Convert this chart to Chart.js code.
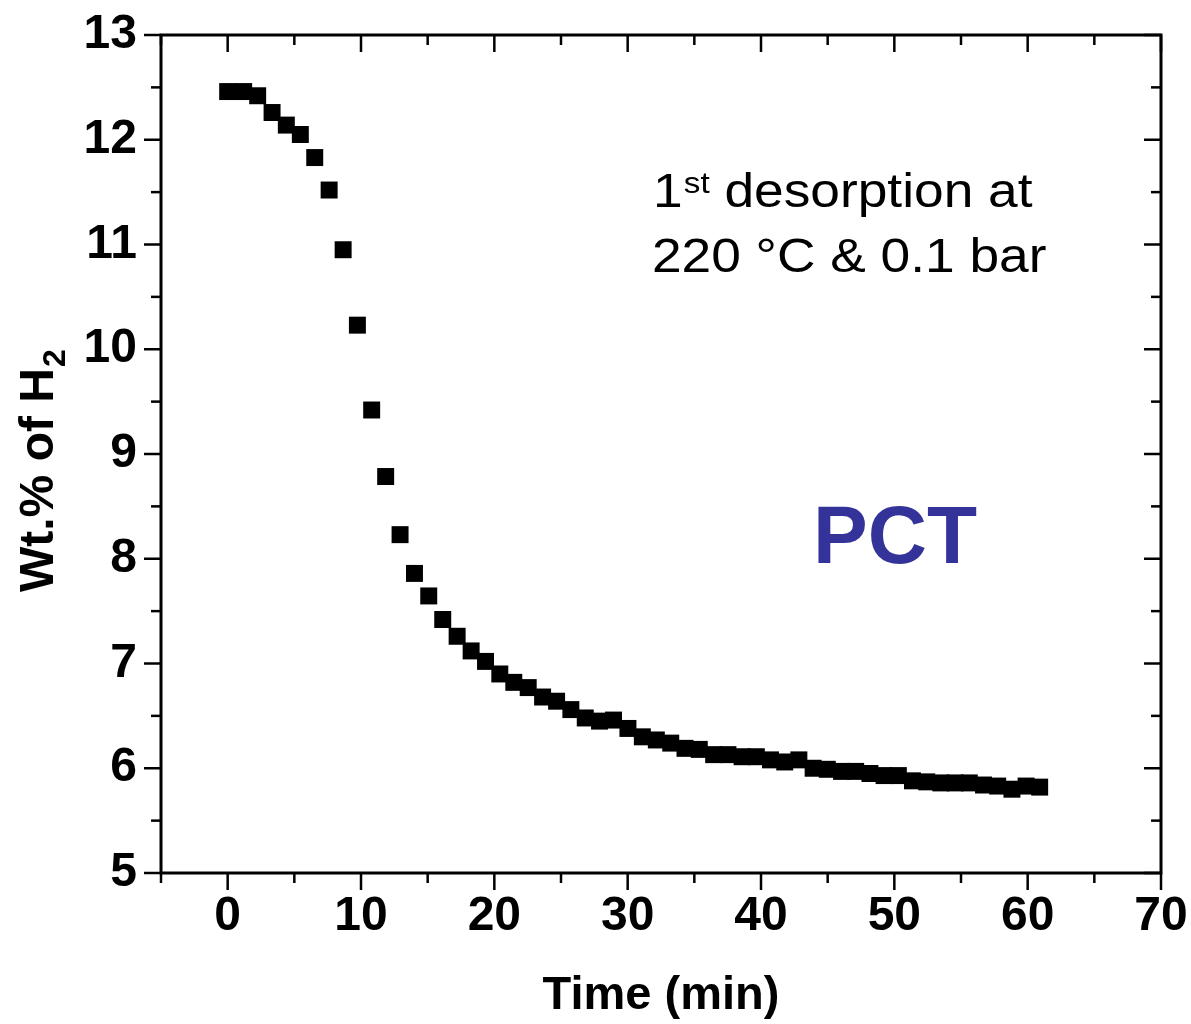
<!DOCTYPE html>
<html><head><meta charset="utf-8">
<script src="https://cdn.jsdelivr.net/npm/chart.js@4"></script>
<style>html,body{margin:0;padding:0;background:#fff}#wrap{width:1191px;height:1024px;position:relative}</style>
</head><body><div id="wrap"><canvas id="c" width="1191" height="1024"></canvas></div>
<script>
const timeMin = [0, 1.2, 2.25, 3.33, 4.4, 5.45, 6.53, 7.61, 8.66, 9.73, 10.8, 11.85, 12.93, 14.01, 15.08, 16.13, 17.21, 18.26, 19.34, 20.41, 21.46, 22.54, 23.62, 24.67, 25.74, 26.82, 27.89, 28.94, 30.02, 31.1, 32.15, 33.23, 34.3, 35.37, 36.45, 37.52, 38.58, 39.65, 40.71, 41.78, 42.84, 43.91, 44.97, 46.04, 47.1, 48.17, 49.23, 50.3, 51.36, 52.43, 53.49, 54.56, 55.62, 56.69, 57.75, 58.82, 59.88, 60.9];
const wtH2 = [12.46, 12.46, 12.42, 12.26, 12.14, 12.05, 11.83, 11.52, 10.95, 10.23, 9.42, 8.785, 8.23, 7.86, 7.645, 7.42, 7.26, 7.12, 7.02, 6.90, 6.82, 6.77, 6.68, 6.64, 6.56, 6.48, 6.45, 6.46, 6.38, 6.30, 6.27, 6.24, 6.19, 6.18, 6.13, 6.13, 6.11, 6.11, 6.08, 6.06, 6.08, 6.00, 5.99, 5.97, 5.97, 5.95, 5.93, 5.93, 5.88, 5.87, 5.86, 5.86, 5.86, 5.84, 5.83, 5.80, 5.83, 5.82];
const xTickValues = [0, 10, 20, 30, 40, 50, 60, 70];
const xMinorValues = [-5, 5, 15, 25, 35, 45, 55, 65];
const yTickValues = [5, 6, 7, 8, 9, 10, 11, 12, 13];
const yMinorValues = [5.5, 6.5, 7.5, 8.5, 9.5, 10.5, 11.5, 12.5];
const xTitle = 'Time (min)';
const yTitleMain = 'Wt.% of H';
const yTitleSub = '2';
const noteLine1 = ['1', 'st', ' desorption at'];
const noteLine2 = '220 \u00B0C & 0.1 bar';
const tagText = 'PCT';

const tickFont = {family: "'Liberation Sans Narrow','Arial Narrow','Liberation Sans',Arial,sans-serif", weight: 'bold', size: 48};

const framePlugin = {
  id: 'frame',
  afterDatasetsDraw(chart) {
    const {ctx, chartArea: a, scales: {x, y}} = chart;
    ctx.save();
    ctx.strokeStyle = '#000';
    ctx.lineWidth = 3;
    ctx.strokeRect(a.left, a.top, a.right - a.left, a.bottom - a.top);
    ctx.lineWidth = 2.5;
    const seg = (x1, y1, x2, y2) => { ctx.beginPath(); ctx.moveTo(x1, y1); ctx.lineTo(x2, y2); ctx.stroke(); };
    xTickValues.map(v => [v, 17]).concat(xMinorValues.map(v => [v, 10])).forEach(([v, len]) => {
      const px = x.getPixelForValue(v);
      seg(px, a.bottom, px, a.bottom + len);
      seg(px, a.top, px, a.top + len);
    });
    yTickValues.map(v => [v, 17]).concat(yMinorValues.map(v => [v, 10])).forEach(([v, len]) => {
      const py = y.getPixelForValue(v);
      seg(a.left - len, py, a.left, py);
      seg(a.right - len, py, a.right, py);
    });
    // y title
    ctx.fillStyle = '#000';
    ctx.save();
    ctx.translate(53, 592);
    ctx.rotate(-Math.PI / 2);
    ctx.font = "bold 48px 'Liberation Sans', Arial, sans-serif";
    ctx.textAlign = 'left'; ctx.textBaseline = 'alphabetic';
    ctx.fillText(yTitleMain, 0, 0);
    const w = ctx.measureText(yTitleMain).width;
    ctx.font = "bold 32px 'Liberation Sans', Arial, sans-serif";
    ctx.fillText(yTitleSub, w + 1, 12);
    ctx.restore();
    // annotation
    ctx.save();
    ctx.translate(653, 0);
    ctx.scale(1.11, 1);
    ctx.font = "48px 'Liberation Sans', Arial, sans-serif";
    ctx.textAlign = 'left'; ctx.textBaseline = 'alphabetic';
    let cx = 0;
    ctx.fillText(noteLine1[0], cx, 207); cx += ctx.measureText(noteLine1[0]).width + 1;
    ctx.font = "30px 'Liberation Sans', Arial, sans-serif";
    ctx.fillText(noteLine1[1], cx, 193); cx += ctx.measureText(noteLine1[1]).width;
    ctx.font = "48px 'Liberation Sans', Arial, sans-serif";
    ctx.fillText(noteLine1[2], cx, 207);
    ctx.fillText(noteLine2, -1, 272);
    ctx.restore();
    // tag
    ctx.font = "bold 82px 'Liberation Sans', Arial, sans-serif";
    ctx.fillStyle = '#333399';
    ctx.fillText(tagText, 813, 563);
    ctx.restore();
  }
};

new Chart(document.getElementById('c'), {
  type: 'scatter',
  data: {datasets: [{
    data: timeMin.map((t, i) => ({x: t, y: wtH2[i]})),
    pointStyle: 'rect', pointRadius: 12, pointHoverRadius: 12,
    backgroundColor: '#000', borderWidth: 0, pointBorderWidth: 0
  }]},
  options: {
    responsive: false, animation: false, devicePixelRatio: 1,
    layout: {padding: {left: 0, right: 30, top: 35, bottom: 0}},
    plugins: {legend: {display: false}, tooltip: {enabled: false}},
    scales: {
      x: {
        type: 'linear', min: -5, max: 70,
        afterBuildTicks: s => { s.ticks = xTickValues.map(v => ({value: v})); },
        afterFit: s => { s.height = 151; s.paddingLeft = 0; s.paddingRight = 0; },
        grid: {display: false, drawTicks: false}, border: {display: false},
        ticks: {color: '#000', font: tickFont, padding: 15, maxRotation: 0, autoSkip: false},
        title: {display: true, text: xTitle, color: '#000', font: {family: "'Liberation Sans', Arial, sans-serif", weight: 'bold', size: 47, lineHeight: 1.2}, padding: {top: 0, bottom: 0}}
      },
      y: {
        type: 'linear', min: 5, max: 13,
        afterBuildTicks: s => { s.ticks = yTickValues.map(v => ({value: v})); },
        afterFit: s => { s.width = 161; s.paddingTop = 0; s.paddingBottom = 0; },
        grid: {display: false, drawTicks: false}, border: {display: false},
        ticks: {color: '#000', font: tickFont, padding: 24, autoSkip: false}
      }
    }
  },
  plugins: [framePlugin]
});
</script></body></html>
